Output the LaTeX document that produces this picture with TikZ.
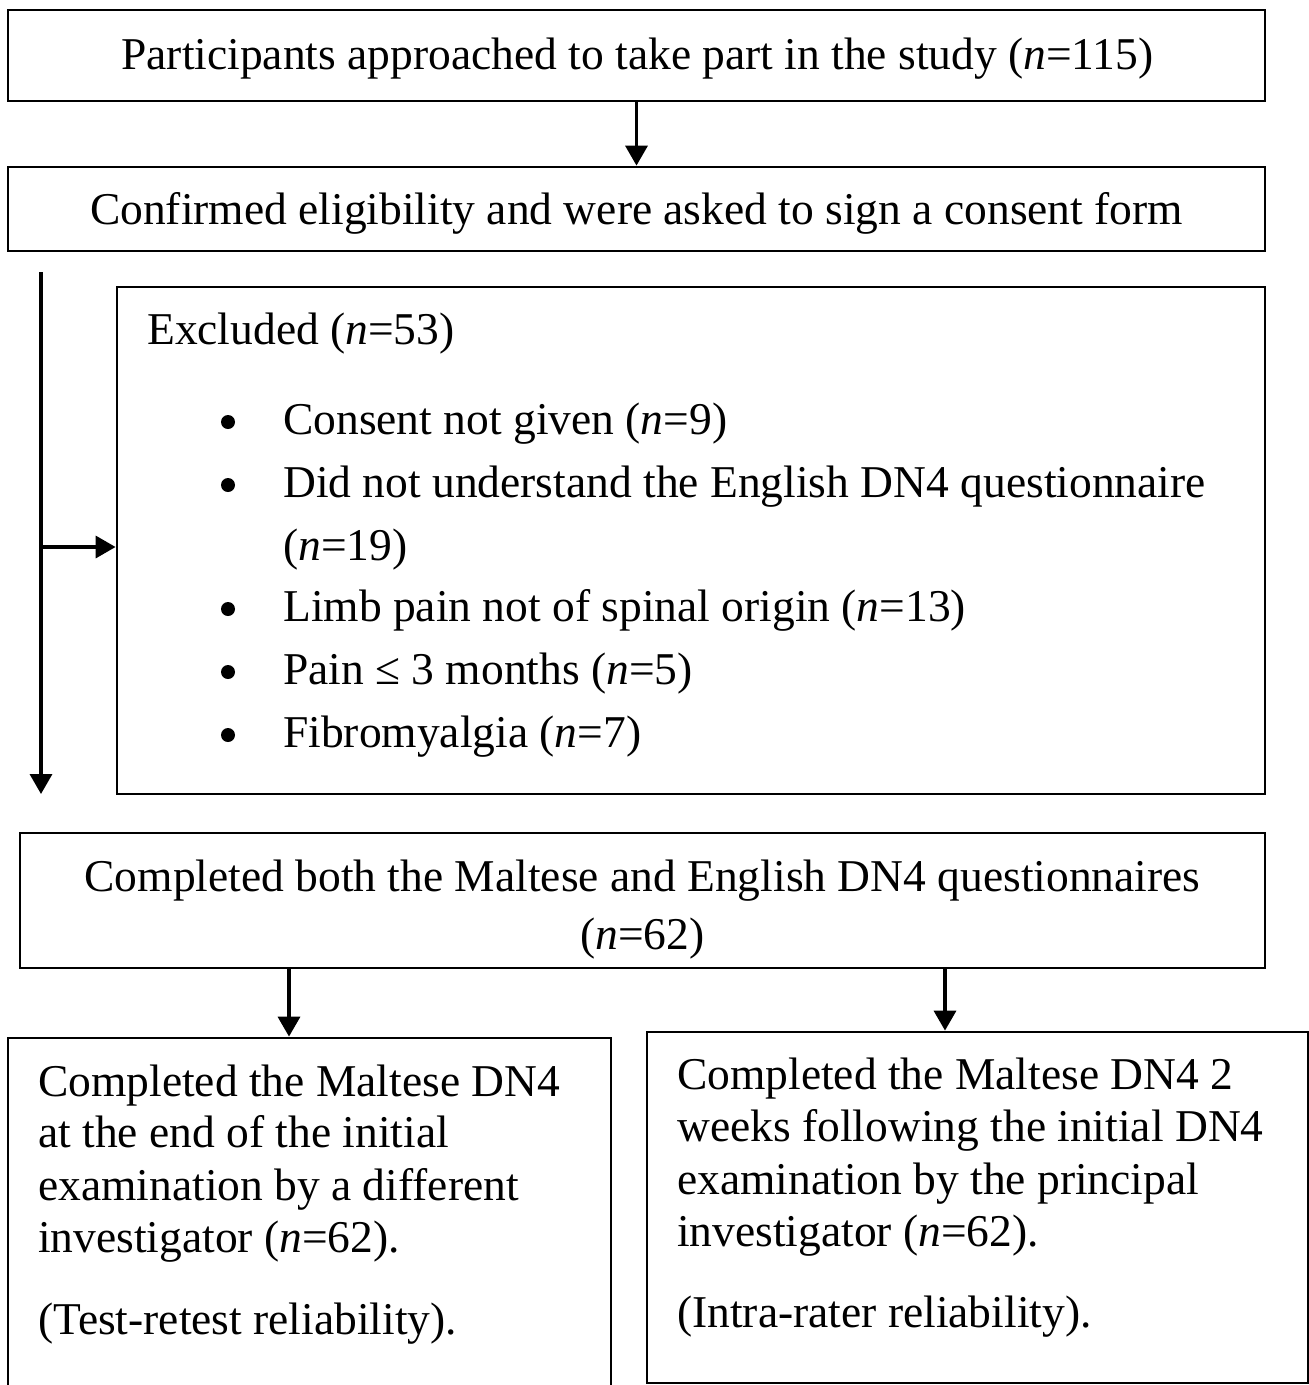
\documentclass[tikz,border=0pt]{standalone}
\usepackage{fontspec}
\setmainfont{Liberation Serif}
\usetikzlibrary{arrows.meta}
\begin{document}
\begin{tikzpicture}[x=1pt,y=-1pt,
  box/.style={draw, line width=2.8pt, rectangle, inner sep=0pt},
  txt/.style={anchor=base west, inner sep=0pt, font=\fontsize{45.5}{54}\selectfont},
  ctxt/.style={anchor=base, inner sep=0pt, font=\fontsize{45.5}{54}\selectfont},
  dot/.style={circle, fill, inner sep=0pt, minimum size=14pt},
  arr/.style={line width=3.5pt, -{Triangle[length=20pt,width=22pt]}}]
\clip (0,0) rectangle (1309,1385);
\fill[white] (0,0) rectangle (1309,1385);
% boxes
\node[box, minimum width=1257pt, minimum height=91pt] (b1) at (636.5,55.5) {};
\node[box, minimum width=1257pt, minimum height=84pt] (b2) at (636.5,209) {};
\node[box, minimum width=1148pt, minimum height=507pt] (b3) at (691,540.5) {};
\node[box, minimum width=1245pt, minimum height=135pt] (b4) at (642.5,900.5) {};
\node[box, minimum width=603pt, minimum height=382pt] (b5) at (309.5,1229) {};
\node[box, minimum width=661pt, minimum height=351pt] (b6) at (977.5,1207.5) {};
% texts
\node[ctxt] (t1) at (637.5,69) {Participants approached to take part in the study (\textit{n}=115)};
\node[ctxt] (t2) at (636.5,224) {Confirmed eligibility and were asked to sign a consent form};
\node[txt] (t3) at (147,344) {Excluded (\textit{n}=53)};
\node[dot] (d1) at (228,422) {};
\node[txt] (l1) at (283,434) {Consent not given (\textit{n}=9)};
\node[dot] (d2) at (228,485) {};
\node[txt] (l2) at (283,497) {Did not understand the English DN4 questionnaire};
\node[txt] (l2b) at (283,560) {(\textit{n}=19)};
\node[dot] (d3) at (228,609) {};
\node[txt] (l3) at (283,621) {Limb pain not of spinal origin (\textit{n}=13)};
\node[dot] (d4) at (228,672) {};
\node[txt] (l4) at (283,684) {Pain ≤ 3 months (\textit{n}=5)};
\node[dot] (d5) at (228,735) {};
\node[txt] (l5) at (283,747) {Fibromyalgia (\textit{n}=7)};
\node[ctxt] (t4a) at (642.5,891) {Completed both the Maltese and English DN4 questionnaires};
\node[ctxt] (t4b) at (642.5,949) {(\textit{n}=62)};
\node[txt] (t5a) at (38,1096) {Completed the Maltese DN4};
\node[txt] (t5b) at (38,1147) {at the end of the initial};
\node[txt] (t5c) at (38,1200) {examination by a different};
\node[txt] (t5d) at (38,1252) {investigator (\textit{n}=62).};
\node[txt] (t5e) at (38,1334) {(Test-retest reliability).};
\node[txt] (t6a) at (677,1089) {Completed the Maltese DN4 2};
\node[txt] (t6b) at (677,1141) {weeks following the initial DN4};
\node[txt] (t6c) at (677,1194) {examination by the principal};
\node[txt] (t6d) at (677,1246) {investigator (\textit{n}=62).};
\node[txt] (t6e) at (677,1327) {(Intra-rater reliability).};
% connectors
\draw[arr] (b1.south) -- (b2.north);
\coordinate (s) at (41,272);
\coordinate (e) at (41,794);
\draw[arr] (s) -- (e);
\coordinate (j) at (41,547);
\draw[arr] (j) -- (j -| b3.west);
\coordinate (a1) at (289,968);
\coordinate (a2) at (945,968);
\draw[arr] (b4.south -| a1) -- (b5.north -| a1);
\draw[arr] (b4.south -| a2) -- (b6.north -| a2);
\end{tikzpicture}
\end{document}
